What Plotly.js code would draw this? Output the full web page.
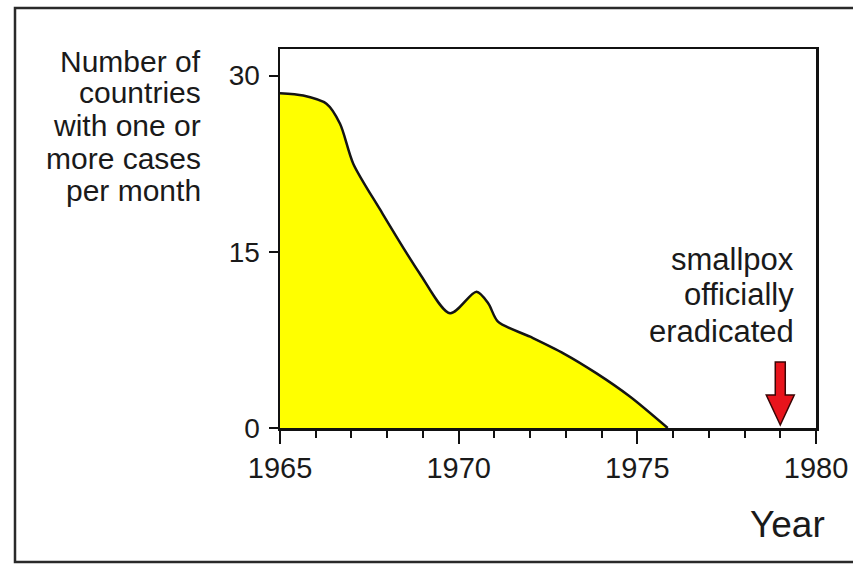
<!DOCTYPE html>
<html>
<head>
<meta charset="utf-8">
<script src="https://cdn.plot.ly/plotly-3.0.1.min.js"></script>
<style>
  html, body { margin: 0; padding: 0; background: #ffffff; }
  #chart { width: 853px; height: 571px; }
</style>
</head>
<body>
<div id="chart"></div>
<script>
// ---- data ----
const years  = [1965.0, 1965.65, 1966.3, 1966.68, 1967.05, 1967.8, 1968.9, 1969.76, 1970.5, 1970.83, 1971.1, 1972.0, 1972.93, 1973.86, 1974.8, 1975.85];
const counts = [28.5,   28.3,    27.6,   25.9,    22.5,    18.6,   13.2,   9.76,    11.6,   10.6,    9.05,   7.77,   6.36,    4.65,    2.66,   0];
const xTickVals = [1965, 1970, 1975, 1980];
const xTickText = ['1965', '1970', '1975', '1980'];
const yTickVals = [0, 15, 30];
const yTickText = ['0', '15', '30'];
const yTitleLines = ['Number of', 'countries', 'with one or', 'more cases', 'per month'];
const noteLines = ['smallpox', 'officially', 'eradicated'];
const eradicationYear = 1979;
const xLabel = 'Year';

// ---- layout geometry ----
const W = 853, H = 571;
const M = {l: 280, r: 37, t: 49, b: 143};
const plotW = W - M.l - M.r, plotH = H - M.t - M.b;
const px2paperX = p => (p - M.l) / plotW;
const px2paperY = p => (H - M.b - p) / plotH;

const FONT = 'Liberation Sans, Arial, Helvetica, sans-serif';
const TXT = '#1a1a1a';

const trace = {
  x: years, y: counts,
  type: 'scatter', mode: 'lines',
  line: {color: '#151515', width: 2.5, shape: 'spline', smoothing: 0.8},
  fill: 'tozeroy', fillcolor: '#ffff00',
  hoverinfo: 'skip'
};

const annotations = [];
const yTitleCenters = [61, 93, 126, 158, 190];
yTitleLines.forEach((t, i) => annotations.push({
  text: t, xref: 'paper', yref: 'paper',
  x: px2paperX(203), y: px2paperY(yTitleCenters[i]),
  xanchor: 'right', yanchor: 'middle', showarrow: false,
  font: {family: FONT, size: 30, color: TXT}
}));
const noteCenters = [259, 294, 331];
noteLines.forEach((t, i) => annotations.push({
  text: t, xref: 'x', yref: 'paper',
  x: eradicationYear, xshift: 16, y: px2paperY(noteCenters[i]),
  xanchor: 'right', yanchor: 'middle', showarrow: false,
  font: {family: FONT, size: 31, color: TXT}
}));
annotations.push({
  text: xLabel, xref: 'paper', yref: 'paper',
  x: px2paperX(787), y: px2paperY(524),
  xanchor: 'center', yanchor: 'middle', showarrow: false,
  font: {family: FONT, size: 37, color: TXT}
});

const shapes = [
  // outer frame of the figure
  {type: 'rect', xref: 'paper', yref: 'paper', layer: 'below',
   x0: px2paperX(15), x1: px2paperX(900), y0: px2paperY(562), y1: px2paperY(8),
   line: {color: '#2a2a2a', width: 2.5}, fillcolor: 'rgba(0,0,0,0)'},
  // red arrow marking eradication
  {type: 'path', xref: 'x', yref: 'y', xsizemode: 'pixel', ysizemode: 'pixel',
   xanchor: eradicationYear, yanchor: 0,
   path: 'M 0 3 L -14 33 L -5 33 L -5 66 L 5 66 L 5 33 L 14 33 Z',
   fillcolor: '#e8141c', line: {color: '#3a0505', width: 1.5}}
];

const layout = {
  width: W, height: H,
  margin: M,
  paper_bgcolor: '#ffffff', plot_bgcolor: '#ffffff',
  showlegend: false,
  font: {family: FONT, color: TXT},
  xaxis: {
    range: [1965, 1980], fixedrange: true,
    showgrid: false, zeroline: false,
    showline: true, linecolor: '#111', linewidth: 2.5, mirror: true,
    tickmode: 'array', tickvals: xTickVals, ticktext: xTickText,
    ticks: 'outside', ticklen: 13, tickwidth: 2, tickcolor: '#111',
    tickfont: {family: FONT, size: 29, color: TXT},
    minor: {dtick: 1, tick0: 1965, ticks: 'outside', ticklen: 7, tickwidth: 2, tickcolor: '#111', showgrid: false}
  },
  yaxis: {
    range: [0, 32.26], fixedrange: true,
    showgrid: false, zeroline: false,
    showline: true, linecolor: '#111', linewidth: 2.5, mirror: true,
    tickmode: 'array', tickvals: yTickVals, ticktext: yTickText,
    ticks: 'outside', ticklen: 9, tickwidth: 2, tickcolor: '#111',
    ticklabelstandoff: 3,
    tickfont: {family: FONT, size: 28, color: TXT}
  },
  annotations: annotations,
  shapes: shapes
};

Plotly.newPlot('chart', [trace], layout, {displayModeBar: false, staticPlot: true});
</script>
</body>
</html>
